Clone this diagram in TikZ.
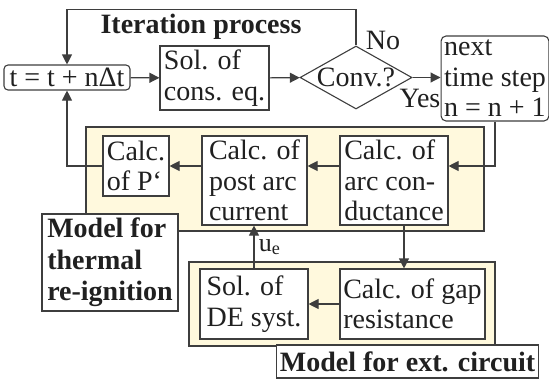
\documentclass[tikz,border=0pt]{standalone}
\usepackage{fontspec}
\setmainfont{Liberation Serif}
\usetikzlibrary{positioning, arrows.meta, shapes.geometric}
\definecolor{zonefill}{RGB}{255,249,221}
\definecolor{edgegray}{RGB}{62,62,62}
\definecolor{inkgray}{RGB}{32,32,32}

\begin{document}
\begin{tikzpicture}[
  x=1pt, y=-1pt, line width=1.1pt,
  every node/.append style={font=\fontsize{28}{30.5}\selectfont, text=inkgray},
  blk/.style={draw=edgegray, fill=white, align=left, inner xsep=3pt, inner ysep=0.5pt},
  lbl/.style={blk, font=\fontsize{28}{31.5}\selectfont\bfseries},
  zone/.style={draw=edgegray, fill=zonefill},
  arr/.style={draw=edgegray, -{Triangle[length=10pt, width=10pt]}}
]
  \useasboundingbox (0,0) rectangle (549,383);

  % shaded model areas
  \draw[zone] (86,127) rectangle (484,231);
  \draw[zone] (189,262) rectangle (495,346);

  % iteration loop
  \node[blk, rounded corners=4pt, minimum width=126pt, minimum height=25pt] (tstep) at (67,77.5) {t = t + nΔt};
  \node[blk, minimum width=109pt, minimum height=64pt] (sol) at (214.5,78) {Sol. of\\cons. eq.};
  \node[diamond, draw=edgegray, fill=white, aspect=1.78, inner sep=-3pt, minimum width=112pt, minimum height=63pt] (conv) at (356,77.5) {Conv.?};
  \node[blk, rounded corners=5pt, minimum width=106pt, minimum height=85pt] (next) at (495,78.5) {next\\time step\\n = n + 1};
  \node[anchor=base] (iter) at (201,33) {\bfseries Iteration process};
  \node (no) at (383,40) {No};
  \node (yes) at (420,98) {Yes};

  % thermal re-ignition model
  \node[blk, minimum width=66pt, minimum height=60pt] (pcalc) at (136,166) {Calc.\\of P‘};
  \node[blk, minimum width=105pt, minimum height=89pt] (post) at (254.5,180.5) {Calc. of\\post arc\\current};
  \node[blk, minimum width=108pt, minimum height=89pt] (cond) at (394,180.5) {Calc. of\\arc con-\\ductance};
  \node[lbl, minimum width=136pt, minimum height=97pt] (thermal) at (110,262.5) {Model for\\thermal\\re-ignition};

  % external circuit model
  \node[blk, minimum width=108pt, minimum height=70pt] (de) at (254,304) {Sol. of\\DE syst.};
  \node[blk, minimum width=145pt, minimum height=70pt] (gap) at (412.5,304) {Calc. of gap\\resistance};
  \node[lbl, minimum width=261pt, minimum height=33pt] (ext) at (407.5,361.5) {Model for ext. circuit};

  \draw[arr] (tstep) -- (sol);
  \draw[arr] (sol) -- (conv);
  \draw[arr] (conv.east) -- (conv.east -| next.west);
  \draw[arr] (conv.north) -- ++(0,-36) -| (tstep.north);
  \draw[arr] (next.south) |- (cond.east |- pcalc);
  \draw[arr] (cond.west |- pcalc) -- (post.east |- pcalc);
  \draw[arr] (post.west |- pcalc) -- (pcalc.east);
  \draw[arr] (pcalc.west) -| (tstep.south);
  \draw[arr] ([xshift=10pt]cond.south) -- ([xshift=10pt]cond.south |- gap.north);
  \draw[arr] (gap) -- (de);
  \draw[arr] (de.north) -- (de.north |- post.south) node[midway, right=1pt, font=\fontsize{26}{28}\selectfont] (ue) {u\textsubscript{e}};
\end{tikzpicture}
\end{document}
